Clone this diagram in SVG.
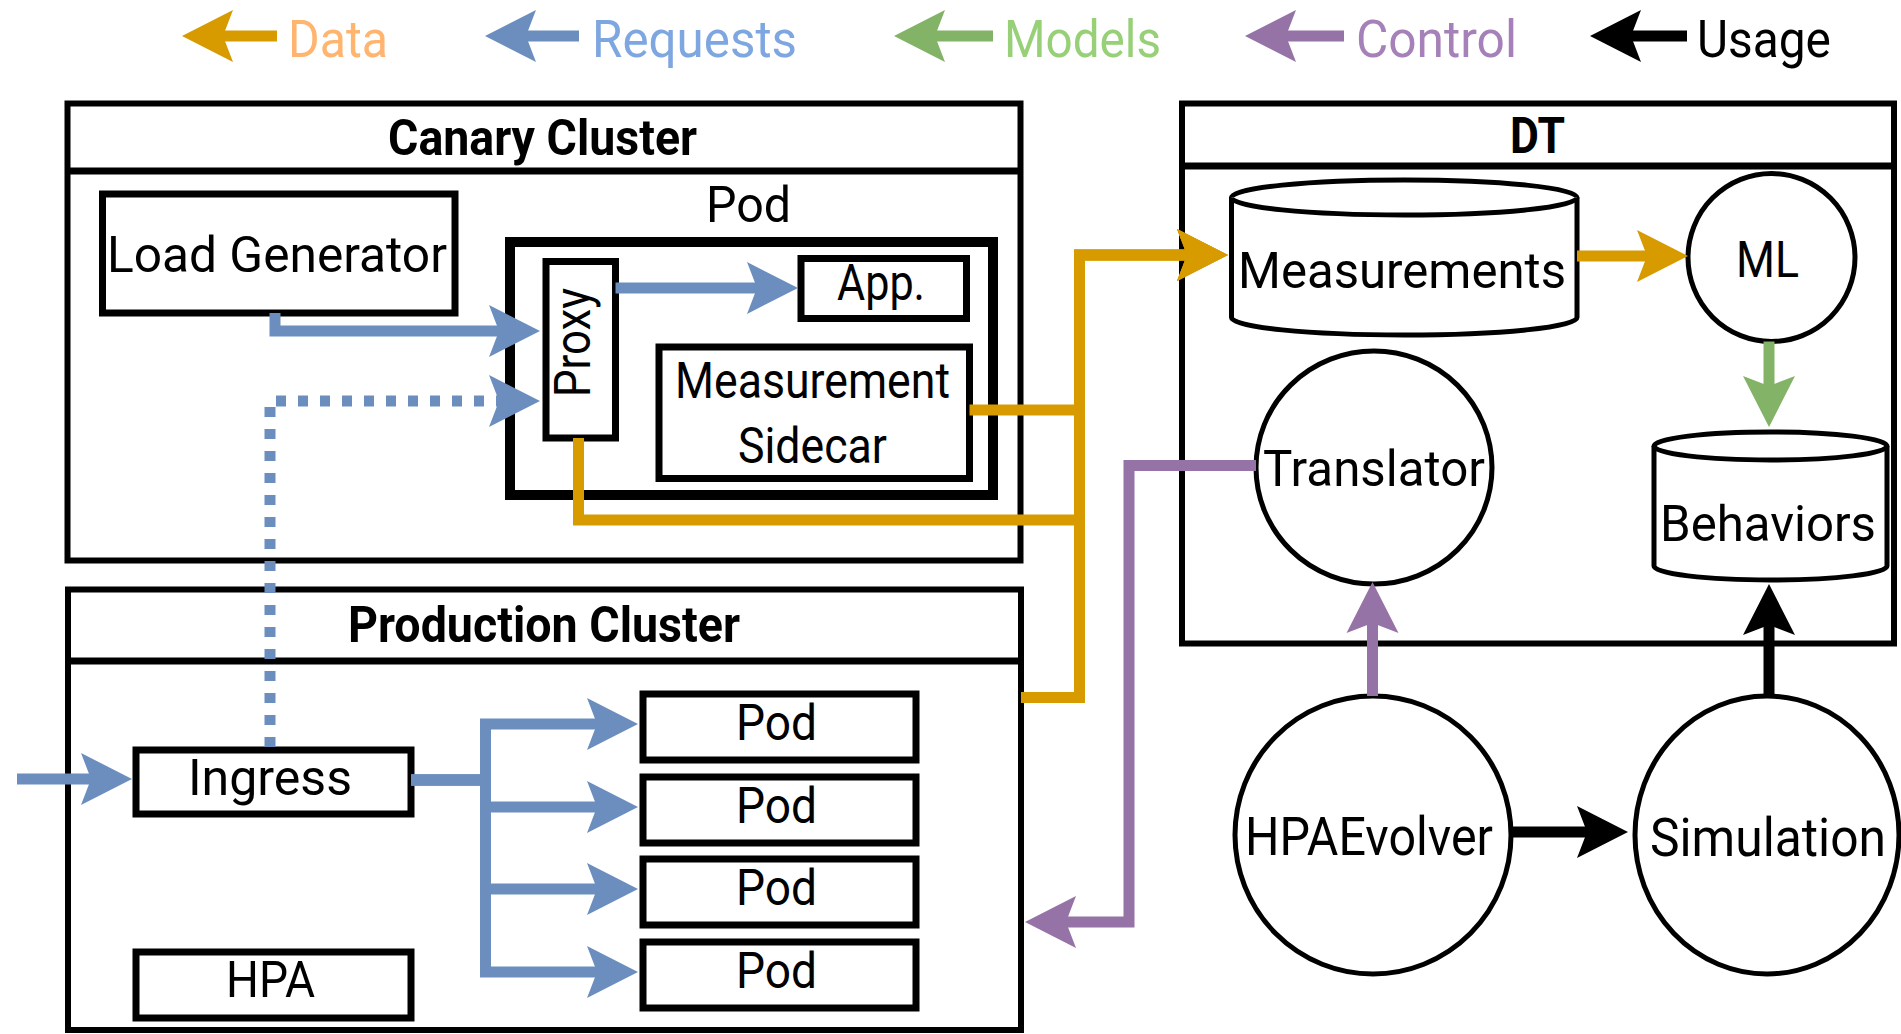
<svg xmlns="http://www.w3.org/2000/svg" width="1901" height="1034" viewBox="0 0 1901 1034">
<style>
text{font-family:Roboto,"Liberation Sans",sans-serif;font-size:50px;fill:#000}
.t{font-weight:bold}
.lg{font-size:52px}
.big{font-size:53px}
.box{fill:#fff;stroke:#000;stroke-width:7}
.cl{fill:#fff;stroke:#000;stroke-width:6}
.sh{fill:#fff;stroke:#000;stroke-width:5}
.ln{fill:none;stroke-width:11;stroke-linejoin:miter}
.data{stroke:#D79B00}
.req{stroke:#6C8EBF}
.mod{stroke:#82B366}
.ctl{stroke:#9673A6}
.use{stroke:#000}
</style>
<defs>
<marker id="aData" markerUnits="userSpaceOnUse" markerWidth="1" markerHeight="1" refX="0" refY="0" orient="auto" overflow="visible"><path d="M41,0 L-10,-26 L0,0 L-10,26 Z" fill="#D79B00"/></marker>
<marker id="aReq" markerUnits="userSpaceOnUse" markerWidth="1" markerHeight="1" refX="0" refY="0" orient="auto" overflow="visible"><path d="M41,0 L-10,-26 L0,0 L-10,26 Z" fill="#6C8EBF"/></marker>
<marker id="aMod" markerUnits="userSpaceOnUse" markerWidth="1" markerHeight="1" refX="0" refY="0" orient="auto" overflow="visible"><path d="M41,0 L-10,-26 L0,0 L-10,26 Z" fill="#82B366"/></marker>
<marker id="aCtl" markerUnits="userSpaceOnUse" markerWidth="1" markerHeight="1" refX="0" refY="0" orient="auto" overflow="visible"><path d="M41,0 L-10,-26 L0,0 L-10,26 Z" fill="#9673A6"/></marker>
<marker id="aUse" markerUnits="userSpaceOnUse" markerWidth="1" markerHeight="1" refX="0" refY="0" orient="auto" overflow="visible"><path d="M41,0 L-10,-26 L0,0 L-10,26 Z" fill="#000"/></marker>
</defs>
<rect width="1901" height="1034" fill="#fff"/>

<g id="legend">
<path class="ln data" d="M277,36 H223" marker-end="url(#aData)"/>
<text class="lg" x="288" y="57" textLength="100" lengthAdjust="spacingAndGlyphs" style="fill:#FFB570">Data</text>
<path class="ln req" d="M579,36 H526" marker-end="url(#aReq)"/>
<text class="lg" x="592" y="57" textLength="205" lengthAdjust="spacingAndGlyphs" style="fill:#7EA6E0">Requests</text>
<path class="ln mod" d="M993,36 H935" marker-end="url(#aMod)"/>
<text class="lg" x="1004" y="57" textLength="157" lengthAdjust="spacingAndGlyphs" style="fill:#97D077">Models</text>
<path class="ln ctl" d="M1344,36 H1286" marker-end="url(#aCtl)"/>
<text class="lg" x="1356" y="57" textLength="161" lengthAdjust="spacingAndGlyphs" style="fill:#A680B8">Control</text>
<path class="ln use" d="M1687,36 H1631" marker-end="url(#aUse)"/>
<text class="lg" x="1697" y="57" textLength="134" lengthAdjust="spacingAndGlyphs">Usage</text>
</g>

<g id="canary-cluster">
<rect class="cl" x="67.5" y="103.5" width="953" height="457"/>
<line x1="67.5" y1="171" x2="1020.5" y2="171" stroke="#000" stroke-width="7"/>
<text class="t" x="388" y="155" textLength="309" lengthAdjust="spacingAndGlyphs">Canary Cluster</text>
</g>
<g id="canary-pod">
<text x="706" y="222" textLength="85" lengthAdjust="spacingAndGlyphs">Pod</text>
<rect x="510" y="242" width="483" height="253" fill="#fff" stroke="#000" stroke-width="10"/>
</g>
<g id="load-generator">
<rect class="box" x="102.5" y="194" width="352.5" height="119"/>
<text x="107" y="272" textLength="340" lengthAdjust="spacingAndGlyphs">Load Generator</text>
</g>
<g id="proxy">
<rect class="box" x="546" y="261.5" width="69.5" height="176.5"/>
<text x="590" y="397" transform="rotate(-90 590 397)" textLength="109" lengthAdjust="spacingAndGlyphs">Proxy</text>
</g>
<g id="app">
<rect class="box" x="801" y="258.5" width="165.5" height="60"/>
<text x="837" y="300" textLength="88" lengthAdjust="spacingAndGlyphs">App.</text>
</g>
<g id="measurement-sidecar">
<rect class="box" x="659" y="347" width="310.5" height="131.5"/>
<text x="675" y="398" textLength="275" lengthAdjust="spacingAndGlyphs">Measurement</text>
<text x="738" y="463" textLength="149" lengthAdjust="spacingAndGlyphs">Sidecar</text>
</g>

<g id="production-cluster">
<rect class="cl" x="68" y="589.5" width="953" height="440.5"/>
<line x1="68" y1="661" x2="1021" y2="661" stroke="#000" stroke-width="7"/>
<text class="t" x="348" y="642" textLength="392" lengthAdjust="spacingAndGlyphs">Production Cluster</text>
</g>
<g id="ingress">
<rect class="box" x="136" y="750" width="275" height="64"/>
<text x="188" y="795" textLength="164" lengthAdjust="spacingAndGlyphs">Ingress</text>
</g>
<g id="hpa">
<rect class="box" x="136" y="952" width="275" height="66"/>
<text x="226" y="997" textLength="89" lengthAdjust="spacingAndGlyphs">HPA</text>
</g>
<g id="pod-1">
<rect class="box" x="643" y="694" width="273" height="66"/>
<text x="736" y="740" textLength="81" lengthAdjust="spacingAndGlyphs">Pod</text>
</g>
<g id="pod-2">
<rect class="box" x="643" y="777" width="273" height="66"/>
<text x="736" y="823" textLength="81" lengthAdjust="spacingAndGlyphs">Pod</text>
</g>
<g id="pod-3">
<rect class="box" x="643" y="859" width="273" height="66"/>
<text x="736" y="905" textLength="81" lengthAdjust="spacingAndGlyphs">Pod</text>
</g>
<g id="pod-4">
<rect class="box" x="643" y="942" width="273" height="66"/>
<text x="736" y="988" textLength="81" lengthAdjust="spacingAndGlyphs">Pod</text>
</g>

<g id="dt">
<rect class="cl" x="1182" y="103.5" width="712" height="540"/>
<line x1="1182" y1="166" x2="1894" y2="166" stroke="#000" stroke-width="7"/>
<text class="t" x="1510" y="153" textLength="55" lengthAdjust="spacingAndGlyphs">DT</text>
</g>
<g id="measurements">
<path class="sh" d="M1231.5,197.5 A172.75,17.5 0 0 1 1577,197.5 V317.5 A172.75,17.5 0 0 1 1231.5,317.5 Z"/>
<path class="sh" fill="none" d="M1231.5,197.5 A172.75,17.5 0 0 0 1577,197.5"/>
<text x="1238" y="288" textLength="328" lengthAdjust="spacingAndGlyphs">Measurements</text>
</g>
<g id="ml">
<ellipse class="sh" cx="1771.5" cy="257.5" rx="83.5" ry="84"/>
<text x="1736" y="277" textLength="63" lengthAdjust="spacingAndGlyphs">ML</text>
</g>
<g id="behaviors">
<path class="sh" d="M1654,446 A116.5,14 0 0 1 1887,446 V566 A116.5,14 0 0 1 1654,566 Z"/>
<path class="sh" fill="none" d="M1654,446 A116.5,14 0 0 0 1887,446"/>
<text x="1660" y="541" textLength="216" lengthAdjust="spacingAndGlyphs">Behaviors</text>
</g>
<g id="translator">
<ellipse class="sh" cx="1374" cy="467.5" rx="118" ry="116.5"/>
<text x="1263" y="486" textLength="222" lengthAdjust="spacingAndGlyphs">Translator</text>
</g>
<g id="hpaevolver">
<ellipse class="sh" cx="1373" cy="835" rx="138" ry="139"/>
<text class="big" x="1245" y="855" textLength="248" lengthAdjust="spacingAndGlyphs">HPAEvolver</text>
</g>
<g id="simulation">
<ellipse class="sh" cx="1767" cy="835" rx="132" ry="139"/>
<text class="big" x="1650" y="856" textLength="236" lengthAdjust="spacingAndGlyphs">Simulation</text>
</g>

<g id="connectors">
<path class="ln req" d="M275,313 V331 H499" marker-end="url(#aReq)"/>
<path class="ln req" d="M270,747 V401 H499" stroke-dasharray="10 12" marker-end="url(#aReq)"/>
<path class="ln req" d="M615.5,288 H757" marker-end="url(#aReq)"/>
<path class="ln req" d="M17,779 H91" marker-end="url(#aReq)"/>
<path class="ln req" d="M411,780 H485.5 V724 H597" marker-end="url(#aReq)"/>
<path class="ln req" d="M411,780 H485.5 V807 H597" marker-end="url(#aReq)"/>
<path class="ln req" d="M411,780 H485.5 V889 H597" marker-end="url(#aReq)"/>
<path class="ln req" d="M411,780 H485.5 V972 H597" marker-end="url(#aReq)"/>
<path class="ln data" d="M969.5,410 H1079.5 V255 H1187" marker-end="url(#aData)"/>
<path class="ln data" d="M578.5,438 V520 H1079.5 V255 H1187" marker-end="url(#aData)"/>
<path class="ln data" d="M1021,697.5 H1079.5 V255 H1187" marker-end="url(#aData)"/>
<path class="ln data" d="M1577,256 H1647" marker-end="url(#aData)"/>
<path class="ln mod" d="M1769,341.5 V386" marker-end="url(#aMod)"/>
<path class="ln ctl" d="M1256,465.5 H1129 V922 H1066" marker-end="url(#aCtl)"/>
<path class="ln ctl" d="M1372.5,696 V623" marker-end="url(#aCtl)"/>
<path class="ln use" d="M1511,832 H1587" marker-end="url(#aUse)"/>
<path class="ln use" d="M1769,696 V625" marker-end="url(#aUse)"/>
</g>
</svg>
